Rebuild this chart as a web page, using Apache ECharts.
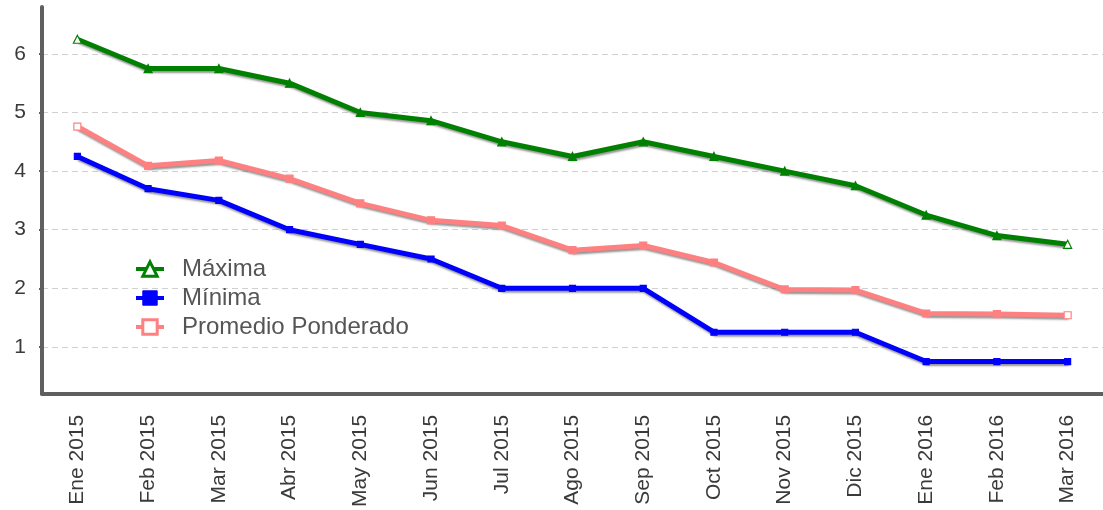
<!DOCTYPE html>
<html>
<head>
<meta charset="utf-8">
<script src="https://cdn.jsdelivr.net/npm/echarts@6/dist/echarts.min.js"></script>
<style>
  html, body { margin: 0; padding: 0; background: #fff; }
  #chart { width: 1103px; height: 510px; }
</style>
</head>
<body>
<div id="chart"></div>
<script>
// Tasas mensuales: máxima, mínima y promedio ponderado
const categories = ['Ene 2015', 'Feb 2015', 'Mar 2015', 'Abr 2015', 'May 2015', 'Jun 2015', 'Jul 2015',
  'Ago 2015', 'Sep 2015', 'Oct 2015', 'Nov 2015', 'Dic 2015', 'Ene 2016', 'Feb 2016', 'Mar 2016'];
const maxima = [6.25, 5.75, 5.75, 5.5, 5.0, 4.86, 4.5, 4.25, 4.5, 4.25, 4.0, 3.75, 3.25, 2.9, 2.75];
const minima = [4.25, 3.7, 3.5, 3.0, 2.75, 2.5, 2.0, 2.0, 2.0, 1.25, 1.25, 1.25, 0.75, 0.75, 0.75];
const promedio = [4.76, 4.09, 4.18, 3.87, 3.45, 3.16, 3.07, 2.65, 2.73, 2.44, 1.98, 1.97, 1.57, 1.56, 1.54];
const yTicks = [1, 2, 3, 4, 5, 6];

const FONT = '"Liberation Sans", Arial, sans-serif';
const GREEN = '#008000', BLUE = '#0000ff', PINK = '#ff8080';
const shadow = { shadowColor: 'rgba(60,60,60,0.55)', shadowBlur: 2, shadowOffsetX: 1, shadowOffsetY: 2 };

// hollow markers show only at the ends; inner ones blend into the line
function points(values, color, hollowEnds) {
  const last = values.length - 1;
  return values.map((v, i) => ({
    value: v,
    itemStyle: {
      color: (hollowEnds && (i === 0 || i === last)) ? '#fff' : color,
      borderColor: color,
      borderWidth: 1.2
    }
  }));
}

function lineSeries(name, values, color, symbol, symbolSize, hollowEnds) {
  return {
    name: name,
    type: 'line',
    data: points(values, color, hollowEnds),
    symbol: symbol,
    symbolSize: symbolSize,
    lineStyle: Object.assign({ color: color, width: 5 }, shadow),
    itemStyle: { color: color },
    emphasis: { disabled: true },
    z: 3
  };
}

const chart = echarts.init(document.getElementById('chart'), null, { renderer: 'canvas' });
chart.setOption({
  animation: false,
  backgroundColor: '#ffffff',
  grid: { left: 42, top: 7, width: 1068, bottom: 115, containLabel: false },
  legend: {
    orient: 'vertical',
    left: 129,
    top: 252,
    itemGap: 5,
    itemWidth: 28,
    itemHeight: 18,
    lineStyle: { width: 4, shadowBlur: 0, shadowOffsetX: 0, shadowOffsetY: 0, shadowColor: 'transparent' },
    textStyle: { fontFamily: FONT, fontSize: 24, color: '#555', padding: [0, 0, 0, 13] },
    data: [
      { name: 'Máxima', itemStyle: { color: '#fff', borderColor: GREEN, borderWidth: 3 } },
      { name: 'Mínima', itemStyle: { color: BLUE, borderColor: BLUE, borderWidth: 1 } },
      { name: 'Promedio Ponderado', itemStyle: { color: '#fff', borderColor: PINK, borderWidth: 3 } }
    ]
  },
  xAxis: {
    type: 'category',
    data: categories,
    boundaryGap: true,
    axisLine: { show: true, lineStyle: { color: '#5f5f5f', width: 4 } },
    axisTick: { show: false },
    axisLabel: {
      rotate: 90,
      margin: 21,
      interval: 0,
      fontFamily: FONT,
      fontSize: 21,
      color: '#3a3a3a'
    },
    splitLine: { show: false }
  },
  yAxis: {
    type: 'value',
    min: 0.2,
    max: 6.8,
    axisLine: { show: true, lineStyle: { color: '#5f5f5f', width: 4 } },
    axisTick: { show: true, inside: false, length: 3, customValues: yTicks, lineStyle: { color: '#5f5f5f', width: 2 } },
    axisLabel: { customValues: yTicks, margin: 16, fontFamily: FONT, fontSize: 21, color: '#3a3a3a' },
    splitLine: { show: true, lineStyle: { color: '#d0d0d0', type: [6, 4], width: 1.2 } }
  },
  series: [
    lineSeries('Máxima', maxima, GREEN, 'triangle', 8, true),
    lineSeries('Mínima', minima, BLUE, 'rect', 6, false),
    lineSeries('Promedio Ponderado', promedio, PINK, 'rect', 7, true)
  ]
});
</script>
</body>
</html>
